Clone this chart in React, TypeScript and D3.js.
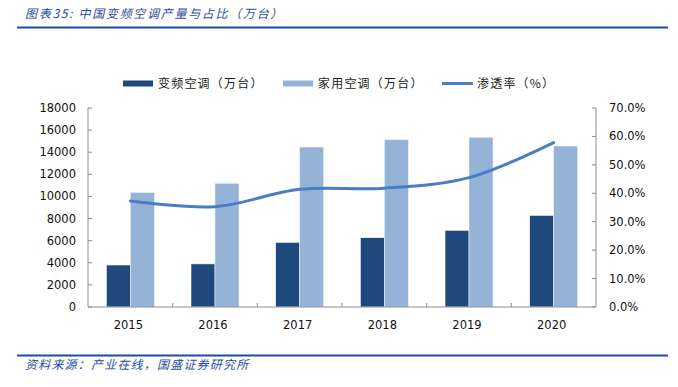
import React from "react";
import * as d3 from "d3";

const years = ["2015", "2016", "2017", "2018", "2019", "2020"];
const inverterAC = [3800, 3900, 5850, 6270, 6940, 8290];
const householdAC = [10350, 11190, 14470, 15130, 15350, 14560];
const penetration = [37.3, 35.3, 41.4, 41.8, 45.5, 57.8];
const leftTicks = [0, 2000, 4000, 6000, 8000, 10000, 12000, 14000, 16000, 18000];
const rightTicks = [0, 10, 20, 30, 40, 50, 60, 70];

const W = 678;
const H = 387;
const L = 88;
const R = 596;
const T = 108;
const B = 307;

const DARK = "#1F497D";
const LIGHT = "#95B3D7";
const LINE = "#4A7EC4";
const AXIS = "#8c8c8c";
const BLUE = "#1F4E9C";
const cjk = "'Noto Sans CJK SC', sans-serif";
const num = "'DejaVu Sans', sans-serif";

export default function App() {
  const x = d3.scaleBand<string>().domain(years).range([L, R]).padding(0);
  const yL = d3.scaleLinear().domain([0, 18000]).range([B, T]);
  const yR = d3.scaleLinear().domain([0, 70]).range([B, T]);
  const bw = 24;
  const line = d3
    .line<number>()
    .x((_, i) => x(years[i])! + x.bandwidth() / 2)
    .y((d) => yR(d))
    .curve(d3.curveCatmullRom.alpha(0.5));

  return (
    <svg width={W} height={H} style={{ position: "absolute", left: 0, top: 0 }}>
      <rect width={W} height={H} fill="#fff" />
      <text x={25} y={18} fontFamily={cjk} fontSize={12} fontStyle="italic" letterSpacing={1.7} fill={BLUE}>
        图表35:  中国变频空调产量与占比（万台）
      </text>
      <line x1={17} x2={668} y1={27.5} y2={27.5} stroke={BLUE} strokeWidth={2} />
      <rect x={123} y={80.5} width={30} height={6} fill={DARK} />
      <text x={158} y={88} fontFamily={cjk} fontSize={12} letterSpacing={1.2} fill="#222">
        变频空调（万台）
      </text>
      <rect x={283} y={80.5} width={30} height={6} fill={LIGHT} />
      <text x={318} y={88} fontFamily={cjk} fontSize={12} letterSpacing={1.2} fill="#222">
        家用空调（万台）
      </text>
      <line x1={442} x2={473} y1={83.5} y2={83.5} stroke={LINE} strokeWidth={3} />
      <text x={477} y={88} fontFamily={cjk} fontSize={12} letterSpacing={1.2} fill="#222">
        渗透率（%）
      </text>
      {years.map((yr, i) => {
        const c = x(yr)! + x.bandwidth() / 2;
        return (
          <g key={yr}>
            <rect x={c - bw} y={yL(inverterAC[i])} width={bw} height={B - yL(inverterAC[i])} fill={DARK} stroke="#fff" strokeWidth={0.6} />
            <rect x={c} y={yL(householdAC[i])} width={bw} height={B - yL(householdAC[i])} fill={LIGHT} stroke="#e8eef7" strokeWidth={0.6} />
          </g>
        );
      })}
      <path d={line(penetration)!} fill="none" stroke={LINE} strokeWidth={3} strokeLinecap="round" />
      <line x1={L} x2={L} y1={T} y2={B} stroke={AXIS} />
      <line x1={R} x2={R} y1={T} y2={B} stroke={AXIS} />
      <line x1={L} x2={R} y1={B} y2={B} stroke={AXIS} />
      {leftTicks.map((t) => (
        <g key={"l" + t}>
          <line x1={L} x2={L + 4} y1={yL(t)} y2={yL(t)} stroke={AXIS} />
          <text x={76} y={yL(t) + 4} textAnchor="end" fontFamily={num} fontSize={11.5} fill="#111">
            {t}
          </text>
        </g>
      ))}
      {rightTicks.map((t) => (
        <g key={"r" + t}>
          <line x1={R - 4} x2={R} y1={yR(t)} y2={yR(t)} stroke={AXIS} />
          <text x={609} y={yR(t) + 4} fontFamily={num} fontSize={11.5} fill="#111">
            {t.toFixed(1) + "%"}
          </text>
        </g>
      ))}
      {years.map((yr, i) => (
        <g key={"c" + yr}>
          {i > 0 && <line x1={x(yr)!} x2={x(yr)!} y1={B - 4} y2={B} stroke={AXIS} />}
          <text x={x(yr)! + x.bandwidth() / 2 - 2} y={329} textAnchor="middle" fontFamily={num} fontSize={11.5} fill="#111">
            {yr}
          </text>
        </g>
      ))}
      <line x1={17} x2={668} y1={355.5} y2={355.5} stroke={BLUE} strokeWidth={2} />
      <text x={25} y={369} fontFamily={cjk} fontSize={12} fontStyle="italic" letterSpacing={1.2} fill={BLUE}>
        资料来源：产业在线，国盛证券研究所
      </text>
    </svg>
  );
}
